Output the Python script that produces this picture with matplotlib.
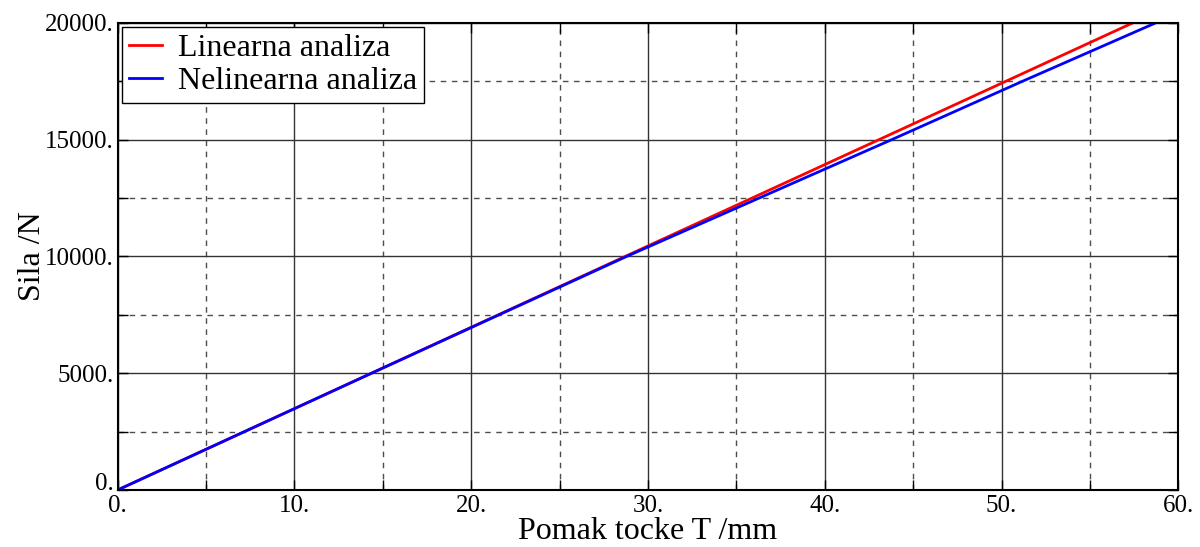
import matplotlib
matplotlib.use("Agg")
import matplotlib.pyplot as plt
from matplotlib.ticker import MultipleLocator, FuncFormatter

plt.rcParams['font.family'] = ['Liberation Serif', 'DejaVu Serif']

# force levels (N) and displacement of point T (mm)
sila = [0, 2500, 5000, 7500, 10000, 12500, 15000, 17500, 20000]
pomak_lin = [0.0, 7.18, 14.36, 21.54, 28.72, 35.90, 43.08, 50.26, 57.44]
pomak_nelin = [0.0, 7.18, 14.37, 21.58, 28.80, 36.30, 43.80, 51.20, 58.74]

fig = plt.figure(figsize=(12, 5.47), dpi=100)
ax = fig.add_axes([0.098, 0.1042, 0.884, 0.8543])

ax.plot(pomak_lin, sila, color="#ff0000", lw=2, label="Linearna analiza")
ax.plot(pomak_nelin, sila, color="#0000ff", lw=2, label="Nelinearna analiza")

ax.set_xlim(0, 60)
ax.set_ylim(0, 20000)
ax.xaxis.set_major_locator(MultipleLocator(10))
ax.xaxis.set_minor_locator(MultipleLocator(5))
ax.yaxis.set_major_locator(MultipleLocator(5000))
ax.yaxis.set_minor_locator(MultipleLocator(2500))
fmt = FuncFormatter(lambda v, p: "%d." % round(v))
ax.xaxis.set_major_formatter(fmt)
ax.yaxis.set_major_formatter(fmt)

ax.grid(which="major", color="0.2", lw=1.0, ls="-")
ax.grid(which="minor", color="0.3", lw=1.0, ls=(0, (4, 4)))
ax.set_axisbelow(True)

ax.tick_params(which="both", direction="in", top=True, right=True,
               length=7, width=1, labelsize=18, colors="black")
ax.tick_params(axis="y", pad=3)
for s in ax.spines.values():
    s.set_linewidth(1.5)

ax.set_xlabel("Pomak tocke T /mm", fontsize=23, labelpad=0)
ax.set_ylabel("Sila /N", fontsize=23, labelpad=-2)

leg = ax.legend(loc="upper left", fontsize=23, fancybox=False, framealpha=1,
                edgecolor="black", borderaxespad=0.15, handlelength=1.05,
                handletextpad=0.5, labelspacing=0.12, borderpad=0.2)
leg.get_frame().set_linewidth(1.0)

# lift the bottom y label so it sits above the x "0." label
fig.canvas.draw()
for tick in ax.yaxis.get_major_ticks():
    if tick.label1.get_text() == "0.":
        tick.label1.set_verticalalignment("baseline")

fig.savefig("out.png", dpi=100)
